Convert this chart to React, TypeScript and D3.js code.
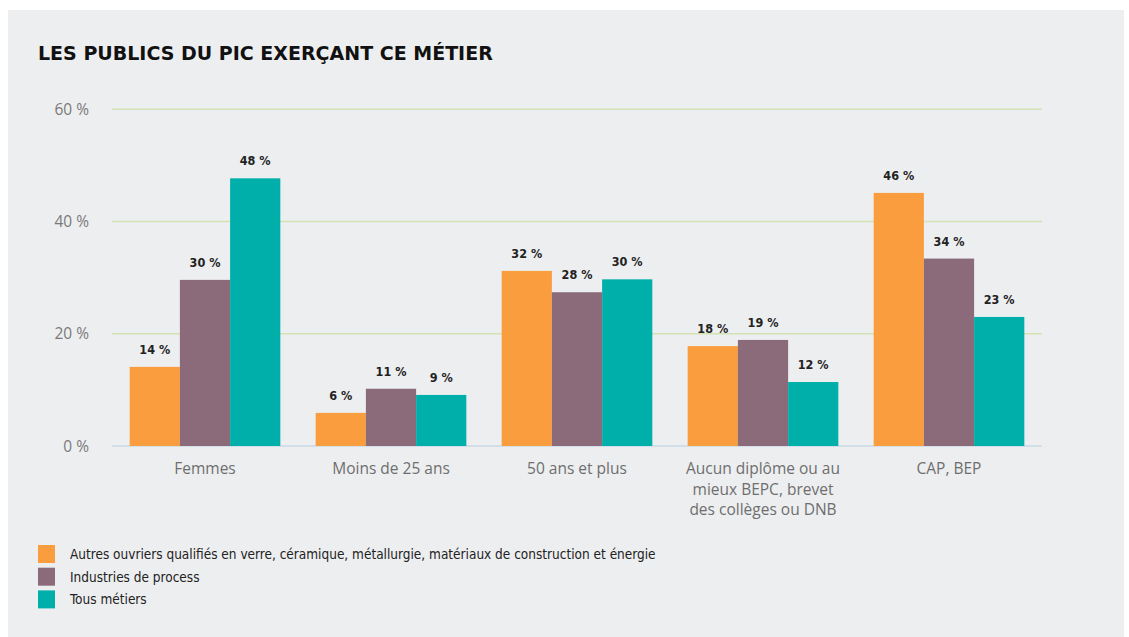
import React from "react";
import * as d3 from "d3";

// --- Data ---
const CATEGORIES = [
  "Femmes",
  "Moins de 25 ans",
  "50 ans et plus",
  "Aucun diplôme ou au mieux BEPC, brevet des collèges ou DNB",
  "CAP, BEP",
];
const CATEGORY_LINES = [
  ["Femmes"],
  ["Moins de 25 ans"],
  ["50 ans et plus"],
  ["Aucun diplôme ou au", "mieux BEPC, brevet", "des collèges ou DNB"],
  ["CAP, BEP"],
];
const SERIES = [
  "Autres ouvriers qualifiés en verre, céramique, métallurgie, matériaux de construction et énergie",
  "Industries de process",
  "Tous métiers",
];
const AUTRES = [14.1, 5.9, 31.2, 17.8, 45.1];
const PROCESS = [29.6, 10.2, 27.4, 18.9, 33.4];
const TOUS = [47.7, 9.1, 29.7, 11.4, 23.0];
const AUTRES_LABELS = ["14 %", "6 %", "32 %", "18 %", "46 %"];
const PROCESS_LABELS = ["30 %", "11 %", "28 %", "19 %", "34 %"];
const TOUS_LABELS = ["48 %", "9 %", "30 %", "12 %", "23 %"];
const Y_TICKS = [0, 20, 40, 60];

const COLORS = ["#F99D3E", "#8B6B7A", "#00AFA9"];
const W = 1129;
const H = 637;
const FONT = "'Open Sans', sans-serif";
const DJ = "'DejaVu Sans', sans-serif";
const DJC = "'DejaVu Sans Condensed', 'DejaVu Sans', sans-serif";

export default function App() {
  const values = [AUTRES, PROCESS, TOUS];
  const labels = [AUTRES_LABELS, PROCESS_LABELS, TOUS_LABELS];

  const x = d3
    .scaleBand<string>()
    .domain(CATEGORIES)
    .range([112, 1042])
    .paddingInner(0.19)
    .paddingOuter(0.095);
  const xi = d3
    .scaleBand<number>()
    .domain(d3.range(SERIES.length))
    .range([0, x.bandwidth()]);
  const y = d3.scaleLinear().domain([0, 60]).range([446, 109.3]);

  return (
    <div style={{ position: "absolute", left: 0, top: 0 }}>
      <svg width={W} height={H} style={{ display: "block" }}>
        <rect x={0} y={0} width={W} height={H} fill="#ffffff" />
        <rect x={8} y={10} width={1116} height={H - 10} fill="#EDEEF0" />

        <text
          x={38}
          y={60}
          fontFamily={DJ}
          fontWeight={700}
          fontSize={19}
          fill="#111"
        >
          LES PUBLICS DU PIC EXERÇANT CE MÉTIER
        </text>

        {/* grid */}
        {Y_TICKS.map((t) => (
          <g key={t}>
            <line
              x1={112}
              x2={1042}
              y1={y(t)}
              y2={y(t)}
              stroke={t === 0 ? "#C9D9E6" : "#D3E2B4"}
              strokeWidth={1.5}
            />
            <text
              x={89}
              y={y(t) + 5.5}
              textAnchor="end"
              fontFamily={FONT}
              fontSize={15.5}
              fill="#7a7a7a"
            >
              {t} %
            </text>
          </g>
        ))}

        {/* bars */}
        {CATEGORIES.map((c, ci) => (
          <g key={c} transform={`translate(${x(c)},0)`}>
            {values.map((vals, si) => (
              <g key={si}>
                <rect
                  x={xi(si)}
                  y={y(vals[ci])}
                  width={xi.bandwidth()}
                  height={y(0) - y(vals[ci])}
                  fill={COLORS[si]}
                />
                <text
                  x={(xi(si) ?? 0) + xi.bandwidth() / 2}
                  y={y(vals[ci]) - 13}
                  textAnchor="middle"
                  fontFamily={DJC}
                  fontWeight={700}
                  fontSize={12.5}
                  fill="#222"
                >
                  {labels[si][ci]}
                </text>
              </g>
            ))}
          </g>
        ))}

        {/* x labels */}
        {CATEGORIES.map((c, ci) => (
          <text
            key={c}
            x={(x(c) ?? 0) + x.bandwidth() / 2}
            y={474}
            textAnchor="middle"
            fontFamily={FONT}
            fontSize={15.5}
            fill="#6e6e6e"
          >
            {CATEGORY_LINES[ci].map((line, li) => (
              <tspan key={li} x={(x(c) ?? 0) + x.bandwidth() / 2} dy={li === 0 ? 0 : 20.5}>
                {line}
              </tspan>
            ))}
          </text>
        ))}

        {/* legend */}
        {SERIES.map((s, si) => (
          <g key={s} transform={`translate(38,${545 + si * 22.7})`}>
            <rect x={0} y={0} width={17} height={18} fill={COLORS[si]} />
            <text x={32} y={14} fontFamily={DJC} fontSize={13.5} fill="#222">
              {s}
            </text>
          </g>
        ))}
      </svg>
    </div>
  );
}
